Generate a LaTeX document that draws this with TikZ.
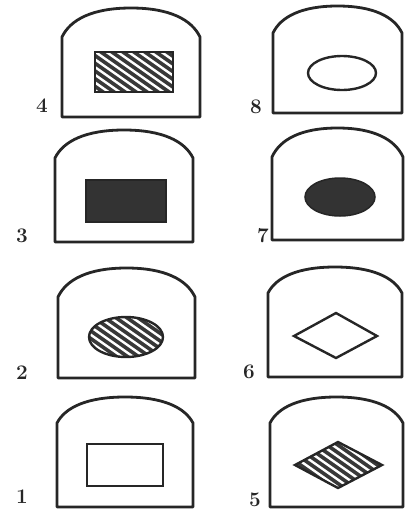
\documentclass[tikz,border=0pt]{standalone}
\usetikzlibrary{calc}
\tikzset{
  tab/.style={draw=black!85, line width=2.8pt, line join=round},
  mark outline/.style={draw=black!85, line width=2.4pt},
  solidfill/.style={fill=black!80, draw=black!85, line width=1.5pt},
  hatchbg/.style={fill=black!78},
  hatchline/.style={draw=white, line width=2.4pt},
  lbl/.style={font=\huge\bfseries, text=black!85, inner sep=0pt}
}
% L R T S B : left, right, top, shoulder, bottom (pixel coordinates)
\newcommand{\tabletpath}[5]{(#1,#5) -- (#1,#4) .. controls ({#1+0.06*(#2-#1)},{#4-0.6*(#4-#3)}) and ({#1+0.22*(#2-#1)},#3) .. ({(#1+#2)/2},#3) .. controls ({#2-0.22*(#2-#1)},#3) and ({#2-0.06*(#2-#1)},{#4-0.6*(#4-#3)}) .. (#2,#4) -- (#2,#5) -- cycle}
\newcommand{\hatchin}[2]{% center x, center y
  \foreach \k in {-120,-109,...,120} {
    \draw[hatchline] ({#1+\k-60},{#2-42}) -- ({#1+\k+60},{#2+42});
  }}
\begin{document}
\begin{tikzpicture}[x=1pt,y=-1pt]
\useasboundingbox (0,0) rectangle (407,515);
% ---- tablet 4 ----
\draw[tab] \tabletpath{62}{200}{8}{37}{117};
\begin{scope}
  \clip (95,52) rectangle (173,92);
  \fill[hatchbg] (95,52) rectangle (173,92);
  \hatchin{134}{72}
\end{scope}
\draw[mark outline] (95,52) rectangle (173,92);
\node[lbl] (l4) at (42,106) {4};
% ---- tablet 8 ----
\draw[tab] \tabletpath{273}{402}{6}{33}{113};
\draw[mark outline] (342,73) ellipse [x radius=34, y radius=17];
\node[lbl] (l8) at (256,107) {8};
% ---- tablet 3 ----
\draw[tab] \tabletpath{55}{193}{130}{158}{242};
\draw[solidfill] (86,180) rectangle (166,222);
\node[lbl] (l3) at (22,236) {3};
% ---- tablet 7 ----
\draw[tab] \tabletpath{272}{403}{128}{157}{240};
\draw[solidfill] (340,197) ellipse [x radius=35, y radius=19];
\node[lbl] (l7) at (263,236) {7};
% ---- tablet 2 ----
\draw[tab] \tabletpath{58}{195}{268}{297}{378};
\begin{scope}
  \clip (126,337) ellipse [x radius=37, y radius=20];
  \fill[hatchbg] (126,337) ellipse [x radius=37, y radius=20];
  \hatchin{126}{337}
\end{scope}
\draw[mark outline] (126,337) ellipse [x radius=37, y radius=20];
\node[lbl] (l2) at (22,373) {2};
% ---- tablet 6 ----
\draw[tab] \tabletpath{268}{402}{267}{293}{377};
\draw[mark outline] (294,336) -- (336,313) -- (377,336) -- (336,358) -- cycle;
\node[lbl] (l6) at (249,372) {6};
% ---- tablet 1 ----
\draw[tab] \tabletpath{57}{193}{397}{423}{507};
\draw[mark outline] (87,444) rectangle (163,486);
\node[lbl] (l1) at (22,497) {1};
% ---- tablet 5 ----
\draw[tab] \tabletpath{270}{403}{397}{423}{507};
\begin{scope}
  \clip (295,465) -- (338,442) -- (382,465) -- (338,488) -- cycle;
  \fill[hatchbg] (295,465) -- (338,442) -- (382,465) -- (338,488) -- cycle;
  \hatchin{338}{465}
\end{scope}
\draw[mark outline] (295,465) -- (338,442) -- (382,465) -- (338,488) -- cycle;
\node[lbl] (l5) at (255,500) {5};
\end{tikzpicture}
\end{document}
